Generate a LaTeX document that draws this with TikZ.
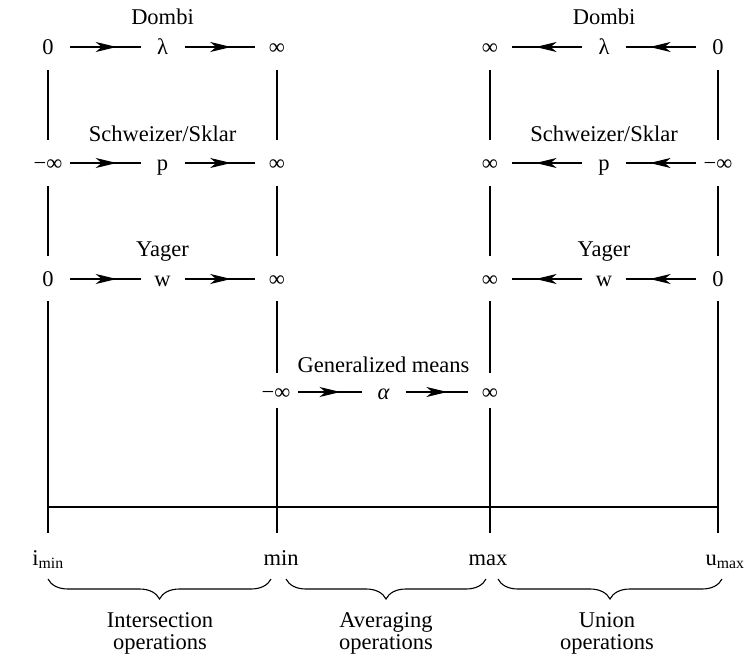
\documentclass[tikz,border=0pt]{standalone}
\usepackage{fontspec}
\setmainfont{Liberation Serif}
\usetikzlibrary{decorations.markings,decorations.pathreplacing,arrows.meta}
\begin{document}
\begin{tikzpicture}[x=1pt,y=1pt,
  every node/.style={font=\fontsize{22.5}{26}\selectfont, inner sep=0pt, text height=15pt, text depth=0pt},
  vline/.style={line width=1.3pt},
  midarrowed/.style={line width=1.2pt, shorten <=22pt, shorten >=22pt, postaction={decorate},
    decoration={markings, mark=at position 0.6 with {\arrow{Stealth[length=21pt,width=10pt,inset=6pt]}}}},
  bracestyle/.style={line width=1.1pt, decorate, decoration={brace, mirror, amplitude=20pt}},
]
\useasboundingbox (0,0) rectangle (744,657);

% ---- left block (intersection) ----
\node (dombiL) at (162.5,640) {Dombi};
\node (d0) at (48,610) {0};
\node (dl) at (162.5,610) {λ};
\node (d1) at (277,610) {∞};
\node (schL) at (162.5,523) {Schweizer/Sklar};
\node (s0) at (48,494) {−∞};
\node (sp) at (162.5,494) {p};
\node (s1) at (277,494) {∞};
\node (yagL) at (162.5,408) {Yager};
\node (y0) at (48,378) {0};
\node (yw) at (162.5,378) {w};
\node (y1) at (277,378) {∞};

\draw[midarrowed] (d0.center) -- (dl.center);
\draw[midarrowed] (dl.center) -- (d1.center);
\draw[midarrowed] (s0.center) -- (sp.center);
\draw[midarrowed] (sp.center) -- (s1.center);
\draw[midarrowed] (y0.center) -- (yw.center);
\draw[midarrowed] (yw.center) -- (y1.center);

% ---- right block (union) ----
\node (dombiR) at (604,640) {Dombi};
\node (rd1) at (490,610) {∞};
\node (rdl) at (604,610) {λ};
\node (rd0) at (718,610) {0};
\node (schR) at (604,523) {Schweizer/Sklar};
\node (rs1) at (490,494) {∞};
\node (rsp) at (604,494) {p};
\node (rs0) at (718,494) {−∞};
\node (yagR) at (604,408) {Yager};
\node (ry1) at (490,378) {∞};
\node (ryw) at (604,378) {w};
\node (ry0) at (718,378) {0};

\draw[midarrowed] (rd0.center) -- (rdl.center);
\draw[midarrowed] (rdl.center) -- (rd1.center);
\draw[midarrowed] (rs0.center) -- (rsp.center);
\draw[midarrowed] (rsp.center) -- (rs1.center);
\draw[midarrowed] (ry0.center) -- (ryw.center);
\draw[midarrowed] (ryw.center) -- (ry1.center);

% ---- middle (averaging) ----
\node (genL) at (383.5,292) {Generalized means};
\node (g0) at (276,265) {−∞};
\node (ga) at (383.5,265) {\itshape α};
\node (g1) at (490,265) {∞};
\draw[midarrowed] (g0.center) -- (ga.center);
\draw[midarrowed] (ga.center) -- (g1.center);

% ---- axis ----
\coordinate (bA) at (48,150);
\coordinate (bD) at (718,150);
\coordinate (eA) at (48,124);
\coordinate (eB) at (277,124);
\coordinate (eC) at (490,124);
\coordinate (eD) at (718,124);
\draw[vline] (bA) -- (bD);

% vertical lines
\draw[vline, shorten <=23pt, shorten >=23pt] (d0.center) -- (s0.center);
\draw[vline, shorten <=23pt, shorten >=23pt] (s0.center) -- (y0.center);
\draw[vline, shorten <=22pt] (y0.center) -- (eA);

\draw[vline, shorten <=23pt, shorten >=23pt] (d1.center) -- (s1.center);
\draw[vline, shorten <=23pt, shorten >=23pt] (s1.center) -- (y1.center);
\draw[vline, shorten <=22pt, shorten >=19pt] (y1.center) -- (y1.center |- g0.center);
\draw[vline, shorten <=16pt] (y1.center |- g0.center) -- (eB);

\draw[vline, shorten <=23pt, shorten >=23pt] (rd1.center) -- (rs1.center);
\draw[vline, shorten <=23pt, shorten >=23pt] (rs1.center) -- (ry1.center);
\draw[vline, shorten <=22pt, shorten >=19pt] (ry1.center) -- (g1.center);
\draw[vline, shorten <=16pt] (g1.center) -- (eC);

\draw[vline, shorten <=23pt, shorten >=23pt] (rd0.center) -- (rs0.center);
\draw[vline, shorten <=23pt, shorten >=23pt] (rs0.center) -- (ry0.center);
\draw[vline, shorten <=22pt] (ry0.center) -- (eD);

% bottom labels
\node (imin) at (48,99) {i\textsubscript{min}};
\node (minl) at (281,99) {min};
\node (maxl) at (488,99) {max};
\node (umax) at (725,99) {u\textsubscript{max}};

% braces
\coordinate (b1l) at (48,78);
\coordinate (b1r) at (271,78);
\coordinate (b2l) at (286,78);
\coordinate (b2r) at (486,78);
\coordinate (b3l) at (498,78);
\coordinate (b3r) at (722,78);
\draw[bracestyle] (b1l) -- (b1r);
\draw[bracestyle] (b2l) -- (b2r);
\draw[bracestyle] (b3l) -- (b3r);

\node (t1a) at (160,37) {Intersection};
\node (t1b) at (160,15) {operations};
\node (t2a) at (386,37) {Averaging};
\node (t2b) at (386,15) {operations};
\node (t3a) at (607,37) {Union};
\node (t3b) at (607,15) {operations};
\end{tikzpicture}
\end{document}
